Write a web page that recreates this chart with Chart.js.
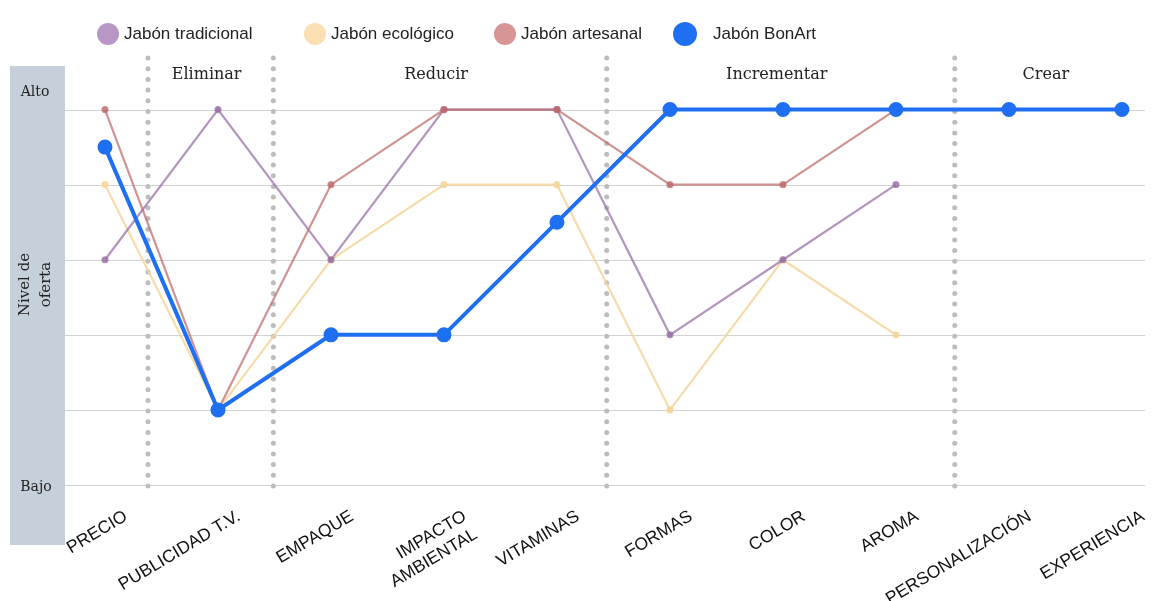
<!DOCTYPE html>
<html lang="es">
<head>
<meta charset="utf-8">
<title>Lienzo estratégico</title>
<script src="https://cdn.jsdelivr.net/npm/chart.js@4.4.1/dist/chart.umd.min.js"></script>
<style>
    html, body { margin: 0; padding: 0; background: #ffffff; }
    #wrap { position: relative; width: 1160px; height: 601px; }
    #legend { position: absolute; top: 20px; left: 0; height: 28px; width: 1160px; font-family: "Liberation Sans", Arial, sans-serif; font-size: 17px; color: #222; }
    .item { position: absolute; top: 0; display: flex; align-items: center; height: 28px; }
    .dot { border-radius: 50%; margin-right: 5px; }
</style>
</head>
<body>
<div id="wrap">
    <canvas id="canvas" width="1160" height="601"></canvas>
    <div id="legend"></div>
</div>
<script>
(function () {
    'use strict';

    // factores del lienzo
    const categories = [
        'PRECIO', 'PUBLICIDAD T.V.', 'EMPAQUE', ['IMPACTO', 'AMBIENTAL'], 'VITAMINAS',
        'FORMAS', 'COLOR', 'AROMA', 'PERSONALIZACIÓN', 'EXPERIENCIA'
    ];

    // nivel de oferta: 0 = Bajo, 5 = Alto
    const tradicional = [3, 5, 3, 5, 5, 2, 3, 4];
    const ecologico = [4, 1, 3, 4, 4, 1, 3, 2];
    const artesanal = [5, 1, 4, 5, 5, 4, 4, 5];
    const bonArt = [4.5, 1, 2, 2, 3.5, 5, 5, 5, 5, 5];

    const yTicks = [0, 1, 2, 3, 4, 5];
    const yLabels = { 5: 'Alto', 0: 'Bajo' };

    // acciones y posición de los separadores (en unidades del eje x)
    const actions = ['Eliminar', 'Reducir', 'Incrementar', 'Crear'];
    const separators = [0.38, 1.49, 4.44, 7.52];

    const legendItems = [
        { label: 'Jabón tradicional', color: '#b896c6', size: 22, left: 97 },
        { label: 'Jabón ecológico', color: '#fbe0b4', size: 22, left: 304 },
        { label: 'Jabón artesanal', color: '#d89595', size: 22, left: 494 },
        { label: 'Jabón BonArt', color: '#1f6ff2', size: 24, left: 673, gap: 16 }
    ];

    const toPoints = (values) => values.map((v, i) => ({ x: i, y: v }));

    function buildLegend() {
        const legendEl = document.getElementById('legend');
        legendItems.forEach((item) => {
            const el = document.createElement('div');
            el.className = 'item';
            el.style.left = item.left + 'px';
            const dot = document.createElement('span');
            dot.className = 'dot';
            dot.style.width = item.size + 'px';
            dot.style.height = item.size + 'px';
            dot.style.background = item.color;
            if (item.gap) dot.style.marginRight = item.gap + 'px';
            const text = document.createElement('span');
            text.textContent = item.label;
            el.appendChild(dot);
            el.appendChild(text);
            legendEl.appendChild(el);
        });
    }

    const backdrop = {
        id: 'backdrop',
        beforeDraw(chart) {
            const { ctx } = chart;
            const y = chart.scales.y;
            const x = chart.scales.x;
            ctx.save();
            // panel lateral
            ctx.fillStyle = '#c6d0da';
            ctx.fillRect(10, 66, 55, 479);

            // líneas horizontales
            ctx.strokeStyle = '#d3d3d3';
            ctx.lineWidth = 1.2;
            yTicks.forEach((v) => {
                const py = Math.round(y.getPixelForValue(v)) + 0.5;
                ctx.beginPath();
                ctx.moveTo(65, py);
                ctx.lineTo(chart.chartArea.right, py);
                ctx.stroke();
            });

            // textos del panel
            ctx.fillStyle = '#222';
            ctx.font = '14px "DejaVu Serif", serif';
            ctx.textAlign = 'center';
            ctx.textBaseline = 'middle';
            ctx.fillText(yLabels[5], 35, y.getPixelForValue(5) - 17);
            ctx.fillText(yLabels[0], 36, y.getPixelForValue(0) + 2);
            ctx.save();
            ctx.translate(36, y.getPixelForValue(2.67));
            ctx.rotate(-Math.PI / 2);
            ctx.font = '15px "DejaVu Serif", serif';
            ctx.fillText('Nivel de', 0, -11);
            ctx.fillText('oferta', 0, 10);
            ctx.restore();

            // separadores punteados
            ctx.fillStyle = '#bdbdbd';
            separators.forEach((s) => {
                const px = x.getPixelForValue(s);
                for (let py = 58; py <= 494; py += 10.7) {
                    ctx.beginPath();
                    ctx.arc(px, py, 2.5, 0, Math.PI * 2);
                    ctx.fill();
                }
            });

            // encabezados de acción
            ctx.fillStyle = '#222';
            ctx.font = '16px "DejaVu Serif", serif';
            const bounds = [separators[0], separators[1], separators[2], separators[3], x.max];
            actions.forEach((a, i) => {
                const cx = (x.getPixelForValue(bounds[i]) + x.getPixelForValue(bounds[i + 1])) / 2 - 4;
                ctx.fillText(a, cx, 75);
            });
            ctx.restore();
        }
    };

    function initializeChart() {
        const thin = (label, color, data, order) => ({
            label,
            data: toPoints(data),
            borderColor: color,
            backgroundColor: color,
            borderWidth: 2.2,
            pointRadius: 2.5,
            pointHoverRadius: 3,
            tension: 0,
            order
        });

        new Chart(document.getElementById('canvas'), {
            type: 'line',
            data: {
                datasets: [
                    {
                        label: 'Jabón BonArt',
                        data: toPoints(bonArt),
                        borderColor: '#1f6ff2',
                        backgroundColor: '#1f6ff2',
                        borderWidth: 4,
                        pointRadius: 5.5,
                        pointHoverRadius: 5.5,
                        tension: 0,
                        order: 0
                    },
                    thin('Jabón artesanal', 'rgba(190, 105, 105, 0.72)', artesanal, 1),
                    thin('Jabón tradicional', 'rgba(150, 110, 165, 0.72)', tradicional, 2),
                    thin('Jabón ecológico', 'rgba(246, 214, 156, 0.85)', ecologico, 3)
                ]
            },
            options: {
                responsive: false,
                animation: false,
                events: [],
                layout: { padding: { top: 57, left: 65, right: 15, bottom: 0 } },
                plugins: {
                    legend: { display: false },
                    tooltip: { enabled: false }
                },
                scales: {
                    x: {
                        type: 'linear',
                        min: -0.354,
                        max: 9.204,
                        grid: { display: false },
                        border: { display: false },
                        afterBuildTicks: (scale) => {
                            scale.ticks = categories.map((_, i) => ({ value: i }));
                        },
                        afterFit: (scale) => {
                            scale.height = 116;
                        },
                        ticks: {
                            autoSkip: false,
                            maxRotation: 31,
                            minRotation: 31,
                            labelOffset: 21,
                            padding: 13,
                            color: '#111',
                            font: { family: '"Liberation Sans", Arial, sans-serif', size: 17.5 },
                            callback: (value) => categories[value]
                        }
                    },
                    y: {
                        min: 0,
                        max: 5.7,
                        display: false
                    }
                }
            },
            plugins: [backdrop]
        });
    }

    buildLegend();
    initializeChart();
})();
</script>
</body>
</html>
